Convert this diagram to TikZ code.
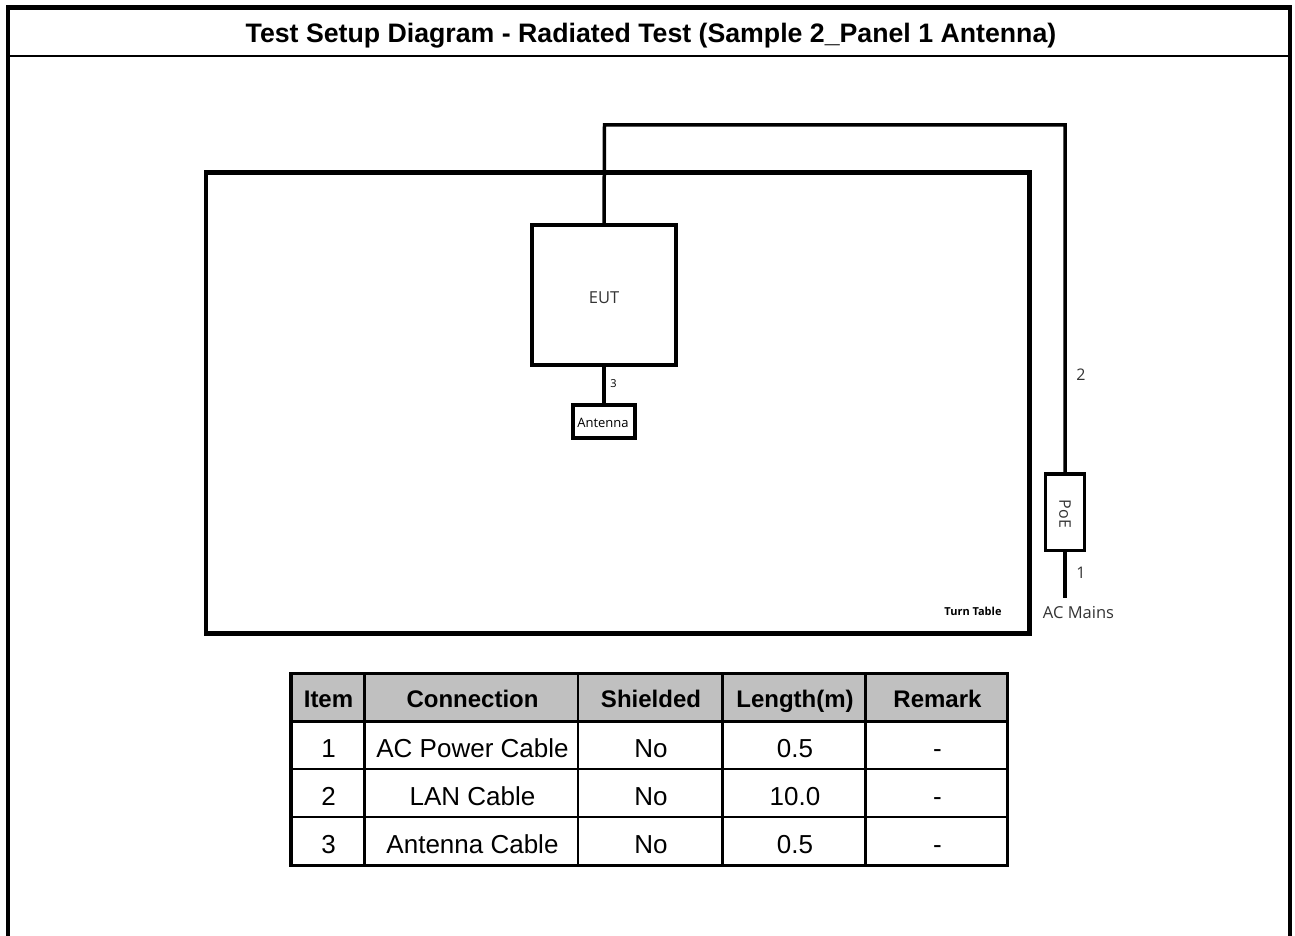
\documentclass[tikz,border=0pt]{standalone}
\usepackage{fontspec}
\setmainfont{Liberation Sans}
\newfontfamily\uifont{Open Sans}
\definecolor{hdrgray}{HTML}{C0C0C0}
\definecolor{lbl}{HTML}{333333}
\begin{document}
\begin{tikzpicture}[x=1pt,y=-1pt,
  devbox/.style={draw, line width=4pt, inner sep=0pt, outer sep=0pt, font=\uifont\fontsize{16}{18}\selectfont, text=lbl},
  cable/.style={line width=4pt},
  lbltext/.style={font=\uifont\fontsize{16}{18}\selectfont, text=lbl, inner sep=0pt},
  hdr/.style={font=\bfseries\fontsize{24}{28}\selectfont, inner sep=0pt, anchor=base},
  cell/.style={font=\fontsize{26}{30}\selectfont, inner sep=0pt, anchor=base}]
\useasboundingbox (0,0) rectangle (1295,936);
% outer frame
\draw[line width=4.5pt] (8,940) -- (8,7.5) -- (1290,7.5) -- (1290,940);
\draw[line width=2pt] (8,56) -- (1290,56);
\node[font=\bfseries\fontsize{26.7}{30}\selectfont, inner sep=0pt, anchor=base] (title) at (651,42.5) {Test Setup Diagram - Radiated Test (Sample 2\_Panel 1 Antenna)};
% turn table
\node[draw, line width=4.5pt, inner sep=0pt, minimum width=823.7pt, minimum height=460.8pt] (tt) at (617.85,402.9) {};
\node[font=\uifont\bfseries\fontsize{11}{13}\selectfont, inner sep=0pt] (ttl) at (973,611) {Turn Table};
% devices
\node[devbox, minimum width=144pt, minimum height=140.5pt] (eut) at (604,294.75) {};
\node[lbltext, font=\uifont\fontsize{16.5}{18}\selectfont] (eutt) at (604,298) {EUT};
\node[devbox, line width=3.5pt, minimum width=62pt, minimum height=33pt, font=\uifont\fontsize{13}{15}\selectfont, text=black] (ant) at (604,421.5) {};
\node[lbltext, font=\uifont\fontsize{13}{15}\selectfont, text=black] (antt) at (603,423) {Antenna};
\node[devbox, line width=3.5pt, minimum width=39.4pt, minimum height=76.7pt] (poe) at (1065,512.3) {};
\node[lbltext, rotate=-90] (poet) at (1065,514) {PoE};
\coordinate (c1) at (604.5,125);
\coordinate (c2) at (1065,125);
\coordinate (mains) at (1065,598);
% cables
\draw[cable, line width=3.5pt] (eut.north) -- (c1) -- (c2) -- (poe.north);
\draw[cable] (eut.south) -- (ant.north);
\draw[cable, line width=3.5pt] (poe.south) -- (mains);
\node[lbltext, font=\uifont\fontsize{11}{13}\selectfont, text=black] (l3) at (613.5,384) {3};
\node[lbltext] (l2) at (1081,375) {2};
\node[lbltext] (l1) at (1081,572.5) {1};
\node[lbltext, font=\uifont\fontsize{16.5}{18}\selectfont] (acm) at (1078.5,612.5) {AC Mains};
% table
\fill[hdrgray] (291,673.3) rectangle (1007.5,721.7);
\foreach \y in {721.7,769,817} \draw[line width=2.5pt] (291,\y) -- (1007.5,\y);
\foreach \x in {364.5,578,722.5,865.5} \draw[line width=2.5pt] (\x,673.3) -- (\x,865.3);
\draw[line width=3.3pt] (291,673.3) rectangle (1007.5,865.3);
% header
\node[hdr] (h1) at (328.5,707) {Item};
\node[hdr] (h2) at (472.5,707) {Connection};
\node[hdr] (h3) at (651,707) {Shielded};
\node[hdr] (h4) at (795,707) {Length(m)};
\node[hdr] (h5) at (937.5,707) {Remark};
% rows
\node[cell] (r1a) at (328.5,757) {1};
\node[cell] (r1b) at (472.5,757) {AC Power Cable};
\node[cell] (r1c) at (651,757) {No};
\node[cell] (r1d) at (795,757) {0.5};
\node[cell] (r1e) at (937.5,757) {-};
\node[cell] (r2a) at (328.5,805) {2};
\node[cell] (r2b) at (472.5,805) {LAN Cable};
\node[cell] (r2c) at (651,805) {No};
\node[cell] (r2d) at (795,805) {10.0};
\node[cell] (r2e) at (937.5,805) {-};
\node[cell] (r3a) at (328.5,853) {3};
\node[cell] (r3b) at (472.5,853) {Antenna Cable};
\node[cell] (r3c) at (651,853) {No};
\node[cell] (r3d) at (795,853) {0.5};
\node[cell] (r3e) at (937.5,853) {-};
\end{tikzpicture}
\end{document}
